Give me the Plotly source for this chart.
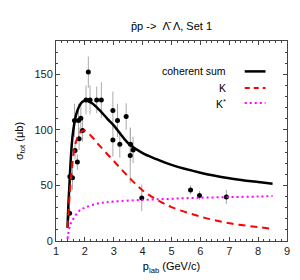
import plotly.graph_objects as go

# Experimental data
p_data = [1.47, 1.48, 1.57, 1.66, 1.74, 1.80, 1.64, 1.78, 1.86, 1.92, 2.04, 2.12, 2.18,
          2.41, 2.57, 2.97, 2.97, 3.13, 3.21, 3.43, 3.58, 3.57, 3.67, 3.97, 5.66, 5.97, 6.90]
sig_data = [25, 58, 57, 81.5, 71, 92, 108.5, 108.5, 110.5, 99.5, 127, 152, 127,
            127, 127, 117.5, 91, 108.5, 87, 112, 87, 77, 82, 38.8, 46, 41, 39.7]
sig_err = [5, 9, 11, 8, 7, 10, 15, 15, 14, 10, 13, 14, 13,
           12, 16, 17, 15, 15, 12, 12, 15, 25, 12, 12, 4, 4, 6.5]

# Model curves
p_sum = [1.40, 1.43, 1.46, 1.50, 1.55, 1.60, 1.70, 1.80, 1.90, 2.00, 2.10, 2.25, 2.50,
         2.78, 3.00, 3.50, 4.00, 4.50, 5.00, 6.00, 7.00, 8.00, 8.50]
sig_sum = [12, 33, 48, 68, 88, 100, 114, 121, 125, 126.5, 126, 124, 118,
           110, 104, 88, 79, 73.5, 68.5, 61.5, 56.5, 53, 51.5]

p_k = [1.40, 1.45, 1.50, 1.55, 1.63, 1.74, 1.85, 1.98, 2.20, 2.50, 3.00, 3.50, 4.00,
       4.50, 5.00, 6.00, 7.00, 8.00, 8.50]
sig_k = [12, 33, 50, 65, 82, 93, 98, 99.5, 95, 86, 72, 58, 45.5,
         37, 30.5, 22, 16, 12.5, 11]

p_ks = [1.40, 1.42, 1.45, 1.50, 1.60, 1.80, 2.00, 2.50, 3.00, 4.00, 5.00, 6.00, 7.00, 8.00, 8.50]
sig_ks = [2, 6, 10, 15, 20, 27, 30, 34, 35.5, 37, 38, 39, 39.5, 40, 40.5]

legend_labels = ["coherent sum", "K", "K<sup>*</sup>"]
title_text = "p\u0304p ->\u00a0 \u039B\u0304\u00a0\u039B, Set 1"

fig = go.Figure()
fig.add_trace(go.Scatter(x=p_data, y=sig_data, mode="markers",
                         marker=dict(color="black", size=5),
                         error_y=dict(type="data", array=sig_err, color="#aaaaaa",
                                      thickness=1, width=0),
                         showlegend=False))
fig.add_trace(go.Scatter(x=p_sum, y=sig_sum, mode="lines", line_shape="spline",
                         line=dict(color="black", width=2.5), showlegend=False))
fig.add_trace(go.Scatter(x=p_k, y=sig_k, mode="lines", line_shape="spline",
                         line=dict(color="#ff0000", width=2, dash="7px,5px"), showlegend=False))
fig.add_trace(go.Scatter(x=p_ks, y=sig_ks, mode="lines", line_shape="spline",
                         line=dict(color="#ff00ff", width=2, dash="2px,3px"), showlegend=False))

# custom legend (text right, sample line after)
leg_colors = ["black", "#ff0000", "#ff00ff"]
leg_dash = ["solid", "5px,4px", "2px,3px"]
leg_y = [0.848, 0.765, 0.69]
for lab, c, d, yy in zip(legend_labels, leg_colors, leg_dash, leg_y):
    fig.add_annotation(x=0.745, y=yy, xref="paper", yref="paper", text=lab,
                       showarrow=False, xanchor="right", yanchor="middle",
                       font=dict(size=10.5, color="black"))
    fig.add_shape(type="line", xref="paper", yref="paper", x0=0.817, x1=0.907,
                  y0=yy, y1=yy, line=dict(color=c, width=2.5 if d == "solid" else 2, dash=d))

# title
fig.add_annotation(x=0.5, y=1, xref="paper", yref="paper", text=title_text,
                   showarrow=False, xanchor="center", yanchor="middle", yshift=15,
                   font=dict(size=11, color="black"))

axis_common = dict(showline=True, linecolor="#444444", linewidth=1, mirror="allticks",
                   ticks="inside", ticklen=4, tickcolor="#444444", showgrid=False,
                   zeroline=False, tickfont=dict(size=11, color="#222222"))

fig.update_xaxes(range=[1, 9], dtick=1, tick0=1,
                 minor=dict(ticks="inside", ticklen=2, dtick=0.2, tickcolor="#444444"),
                 title=dict(text="p<sub>lab</sub> (GeV/c)", font=dict(size=11, color="black"),
                            standoff=6),
                 **axis_common)
fig.update_yaxes(range=[0, 180], dtick=50, tick0=0,
                 minor=dict(ticks="inside", ticklen=2, dtick=10, tickcolor="#444444"),
                 title=dict(text="σ<sub>tot</sub> (μb)", font=dict(size=11, color="black"),
                            standoff=8),
                 **axis_common)

fig.update_layout(
    width=300, height=280,
    margin=dict(l=48, r=21, t=33, b=47),
    plot_bgcolor="white", paper_bgcolor="white",
    font=dict(family="Liberation Sans, Arial, sans-serif", size=11, color="black"),
)

fig.write_html("out.html")
